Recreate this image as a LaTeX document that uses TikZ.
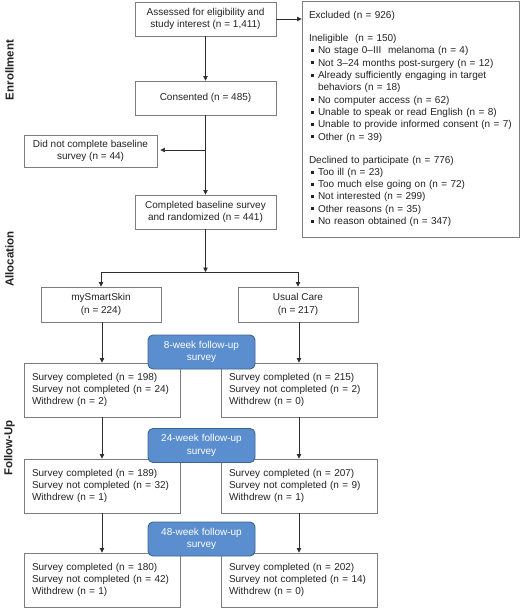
\documentclass[tikz,border=0pt]{standalone}
\usepackage{fontspec}
\setmainfont{Liberation Sans}
\usetikzlibrary{arrows.meta}
\definecolor{boxline}{RGB}{125,125,125}
\definecolor{arrline}{RGB}{45,45,45}
\definecolor{txt}{RGB}{35,35,35}
\definecolor{bluefill}{RGB}{91,142,207}
\definecolor{blueline}{RGB}{60,100,145}
\newcommand{\bul}{\makebox[9pt][l]{\hspace{2pt}\rule[1.8pt]{3pt}{3pt}}}
\begin{document}
\begin{tikzpicture}[x=1pt,y=-1pt,
  every node/.style={font=\fontsize{10}{12.3}\selectfont, text=txt},
  box/.style={draw=boxline, line width=0.9pt, fill=white, inner sep=0pt, align=center},
  lbox/.style={draw=boxline, line width=0.9pt, fill=white, inner xsep=8pt, inner ysep=0pt,
    text width=140pt, minimum height=54pt, align=left},
  bluebox/.style={draw=blueline, line width=0.9pt, fill=bluefill, rounded corners=5pt,
    minimum width=107pt, minimum height=34pt, inner sep=0pt, align=center, text=white},
  sect/.style={rotate=90, font=\fontsize{11.5}{13}\selectfont\bfseries, text=txt},
  arr/.style={draw=arrline, line width=0.7pt, -{Triangle[length=4.5pt,width=4.5pt]}},
  ln/.style={draw=arrline, line width=0.7pt}]
\fill[white] (0,0) rectangle (520,608);
\useasboundingbox (0,0) rectangle (520,608);

% section labels
\node[sect] (enr) at (9.5,70) {Enrollment};
\node[sect] (alc) at (9.5,259) {Allocation};
\node[sect] (fup) at (9.5,448) {Follow-Up};

% enrollment
\node[box, minimum width=141pt, minimum height=34pt] (assess) at (205.5,19)
  {Assessed for eligibility and\\study interest (n = 1,411)};
\node[box, minimum width=141pt, minimum height=34pt] (cons) at (205.5,98)
  {Consented (n = 485)};
\node[box, minimum width=133pt, minimum height=32pt] (dnc) at (90.5,151)
  {Did not complete baseline\\survey (n = 44)};
\node[box, minimum width=141pt, minimum height=34pt] (comp) at (205.5,212)
  {Completed baseline survey\\and randomized (n = 441)};
\node[draw=boxline, line width=0.9pt, fill=white, inner xsep=7pt, inner ysep=0pt,
  text width=203pt, minimum height=236pt, align=left] (excl) at (410.5,119)
  {Excluded (n = 926)\\[10.7pt]
   Ineligible\ \ (n = 150)\\
   \bul No stage 0--III\ \ melanoma (n = 4)\\
   \bul Not 3--24 months post-surgery (n = 12)\\
   \bul Already sufficiently engaging in target\\
   \hspace*{9pt}behaviors (n = 18)\\
   \bul No computer access (n = 62)\\
   \bul Unable to speak or read English (n = 8)\\
   \bul Unable to provide informed consent (n = 7)\\
   \bul Other (n = 39)\\[10.7pt]
   Declined to participate (n = 776)\\
   \bul Too ill (n = 23)\\
   \bul Too much else going on (n = 72)\\
   \bul Not interested (n = 299)\\
   \bul Other reasons (n = 35)\\
   \bul No reason obtained (n = 347)};

% allocation
\node[box, minimum width=120pt, minimum height=35pt] (mss) at (101,304.5)
  {mySmartSkin\\(n = 224)};
\node[box, minimum width=120pt, minimum height=35pt] (uc) at (298,304.5)
  {Usual Care\\(n = 217)};

% follow-up boxes
\node[lbox] (l1) at (102,390) {Survey completed (n = 198)\\Survey not completed (n = 24)\\Withdrew (n = 2)};
\node[lbox] (r1) at (299,390) {Survey completed (n = 215)\\Survey not completed (n = 2)\\Withdrew (n = 0)};
\node[lbox] (l2) at (102,486) {Survey completed (n = 189)\\Survey not completed (n = 32)\\Withdrew (n = 1)};
\node[lbox] (r2) at (299,486) {Survey completed (n = 207)\\Survey not completed (n = 9)\\Withdrew (n = 1)};
\node[lbox] (l3) at (102,580) {Survey completed (n = 180)\\Survey not completed (n = 42)\\Withdrew (n = 1)};
\node[lbox] (r3) at (299,580) {Survey completed (n = 202)\\Survey not completed (n = 14)\\Withdrew (n = 0)};

\node[bluebox] (b1) at (201.5,352) {8-week follow-up\\survey};
\node[bluebox] (b2) at (201.5,445.5) {24-week follow-up\\survey};
\node[bluebox] (b3) at (201.5,539) {48-week follow-up\\survey};

% connectors
\draw[arr] (assess.east) -- (assess.east -| excl.west);
\draw[arr] (assess) -- (cons);
\draw[arr] (cons) -- (comp);
\coordinate (j1) at (205.5,150);
\draw[arr] (j1) -- ([xshift=3pt]j1 -| dnc.east);
\coordinate (split) at (205.5,272);
\draw[arr] (comp) -- (split);
\draw[ln] (mss.north |- split) -- (uc.north |- split);
\draw[arr] (mss.north |- split) -- (mss.north);
\draw[arr] (uc.north |- split) -- (uc.north);
\draw[arr] (l1.north |- mss.south) -- (l1.north);
\draw[arr] (r1.north |- uc.south) -- (r1.north);
\draw[arr] (l1.south) -- (l2.north);
\draw[arr] (r1.south) -- (r2.north);
\draw[arr] (l2.south) -- (l3.north);
\draw[arr] (r2.south) -- (r3.north);
\end{tikzpicture}
\end{document}
